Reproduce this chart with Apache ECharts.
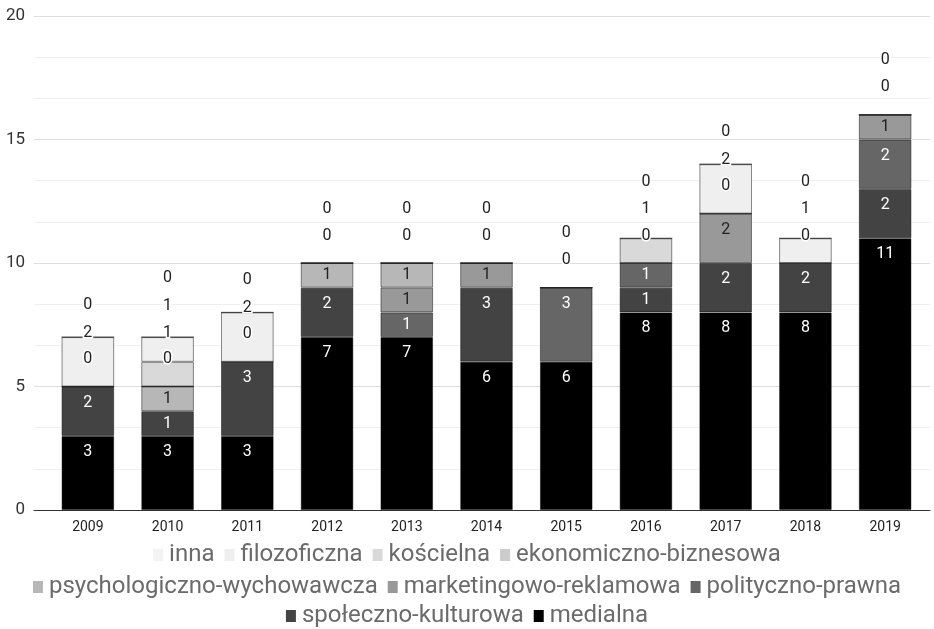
<!DOCTYPE html>
<html>
<head>
<meta charset="utf-8">
<script src="https://cdn.jsdelivr.net/npm/echarts@6/dist/echarts.min.js"></script>
<style>
  html, body { margin: 0; padding: 0; background: #fff; }
  #chart { width: 934px; height: 629px; }
</style>
</head>
<body>
<div id="chart"></div>
<script>
// Publication counts per year and category (blank cells are null)
const years = ['2009', '2010', '2011', '2012', '2013', '2014', '2015', '2016', '2017', '2018', '2019'];
const medialna                  = [3, 3, 3, 7, 7, 6, 6, 8, 8, 8, 11];
const spolecznoKulturowa        = [2, 1, 3, 2, null, 3, null, 1, 2, 2, 2];
const politycznoPrawna          = [null, null, null, null, 1, null, 3, 1, null, null, 2];
const marketingowoReklamowa     = [null, null, null, null, 1, 1, null, null, 2, null, 1];
const psychologicznoWychowawcza = [null, 1, null, 1, 1, null, null, null, null, null, null];
const ekonomicznoBiznesowa      = [0, 0, 0, 0, 0, 0, 0, 0, 0, 0, 0];
const koscielna                 = [null, 1, null, null, null, null, null, 1, null, null, null];
const filozoficzna              = [2, 1, 2, null, null, null, null, null, 2, 1, null];
const inna                      = [0, 0, 0, 0, 0, 0, 0, 0, 0, 0, 0];
const yTicks = [0, 5, 10, 15, 20];

// Stack order, bottom to top
const stackSeries = [
  { name: 'medialna', data: medialna },
  { name: 'społeczno-kulturowa', data: spolecznoKulturowa },
  { name: 'polityczno-prawna', data: politycznoPrawna },
  { name: 'marketingowo-reklamowa', data: marketingowoReklamowa },
  { name: 'psychologiczno-wychowawcza', data: psychologicznoWychowawcza },
  { name: 'ekonomiczno-biznesowa', data: ekonomicznoBiznesowa },
  { name: 'kościelna', data: koscielna },
  { name: 'filozoficzna', data: filozoficzna },
  { name: 'inna', data: inna }
];
const palette = ['#000000', '#434343', '#666666', '#999999', '#b7b7b7', '#cccccc', '#d9d9d9', '#efefef', '#f3f3f3'];
const whiteTextOn = { '#000000': true, '#434343': true, '#666666': true };

const FONT = 'Roboto';
const yMin = yTicks[0], yMax = yTicks[yTicks.length - 1], yStep = yTicks[1] - yTicks[0];

const chart = echarts.init(document.getElementById('chart'), null, { renderer: 'canvas' });

const legendBase = {
  icon: 'rect',
  itemWidth: 10,
  itemHeight: 12,
  itemGap: 10,
  left: 'center',
  selectedMode: false,
  itemStyle: { borderWidth: 0 },
  textStyle: { fontFamily: FONT, fontSize: 24, color: '#6b6b6b', padding: [0, 0, 0, 1] }
};

const option = {
  animation: false,
  backgroundColor: '#ffffff',
  color: palette,
  textStyle: { fontFamily: FONT },
  legend: [
    Object.assign({}, legendBase, { top: 538, data: ['inna', 'filozoficzna', 'kościelna', 'ekonomiczno-biznesowa'] }),
    Object.assign({}, legendBase, { top: 570, data: ['psychologiczno-wychowawcza', 'marketingowo-reklamowa', 'polityczno-prawna'] }),
    Object.assign({}, legendBase, { top: 599, data: ['społeczno-kulturowa', 'medialna'] })
  ],
  grid: [
    { left: 34, right: 4, top: 16, bottom: 119, containLabel: false },
    { left: 48, right: 9, top: 16, bottom: 119, containLabel: false }
  ],
  xAxis: [
    {
      gridIndex: 0, type: 'category', data: years,
      axisLine: { show: true, lineStyle: { color: '#333333', width: 1 } },
      axisTick: { show: false }, axisLabel: { show: false }, splitLine: { show: false }
    },
    {
      gridIndex: 1, type: 'category', data: years,
      axisLine: { show: false }, axisTick: { show: false },
      axisLabel: { show: true, fontFamily: FONT, fontSize: 14, color: '#222222', margin: 10 }
    }
  ],
  yAxis: [
    {
      gridIndex: 0, type: 'value', min: yMin, max: yMax, interval: yStep,
      axisLine: { show: false }, axisTick: { show: false },
      axisLabel: { fontFamily: FONT, fontSize: 17, color: '#333333', margin: 9 },
      splitLine: { show: true, lineStyle: { color: '#dedede', width: 1 } },
      minorTick: { show: false, splitNumber: 3 },
      minorSplitLine: { show: true, lineStyle: { color: '#efefef', width: 1 } }
    },
    {
      gridIndex: 1, type: 'value', min: yMin, max: yMax, interval: yStep, show: false,
      splitLine: { show: false }
    }
  ],
  series: stackSeries.map((s, i) => ({
    name: s.name,
    type: 'bar',
    xAxisIndex: 1,
    yAxisIndex: 1,
    stack: 'total',
    barCategoryGap: '34%',
    data: s.data.slice(),
    itemStyle: { color: palette[i], borderColor: 'rgba(0,0,0,0.45)', borderWidth: 1 },
    emphasis: { disabled: true },
    label: { show: false }
  }))
};

chart.setOption(option);

// Place value labels: near the top inside each segment; zero values just above
// the stack; labels that collide are pushed upward in stacking order.
const yPx = v => chart.convertToPixel({ yAxisIndex: 1 }, v);
const INSET = 16, ZERO_LIFT = 27, MIN_GAP = 23, STEP = 27;

const labelled = stackSeries.map(s => s.data.map(v => v));
years.forEach((yr, c) => {
  let cum = 0;
  let prevY = null;
  stackSeries.forEach((s, i) => {
    const v = s.data[c];
    if (v === null || v === undefined) return;
    const bottom = yPx(cum);
    const top = yPx(cum + v);
    const h = bottom - top;
    let natural = v > 0 ? top + Math.min(INSET, h / 2) : top - ZERO_LIFT;
    let y = natural;
    if (prevY !== null && prevY - y < MIN_GAP) y = prevY - STEP;
    const displaced = v === 0 || Math.abs(y - natural) > 0.5;
    const onDark = !displaced && whiteTextOn[palette[i]];
    labelled[i][c] = {
      value: v,
      label: {
        show: true,
        position: ['50%', y - top],
        align: 'center',
        verticalAlign: 'middle',
        fontFamily: FONT,
        fontSize: 16,
        color: onDark ? '#ffffff' : '#222222',
        textBorderColor: displaced ? '#ffffff' : 'transparent',
        textBorderWidth: displaced ? 3 : 0
      }
    };
    prevY = y;
    cum += v;
  });
});

chart.setOption({
  series: stackSeries.map((s, i) => ({ name: s.name, data: labelled[i], label: { show: true } }))
});
</script>
</body>
</html>
